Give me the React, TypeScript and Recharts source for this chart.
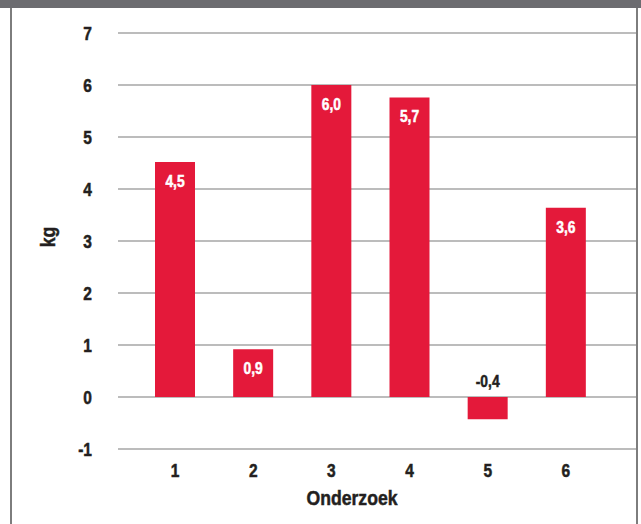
import type React from 'react';
import { BarChart, Bar, XAxis, YAxis, CartesianGrid, LabelList, Label } from 'recharts';

const studies = ['1', '2', '3', '4', '5', '6'];
const weightChange = [4.52, 0.92, 6.0, 5.76, -0.43, 3.64];
const yTicks = [-1, 0, 1, 2, 3, 4, 5, 6, 7];

const chartData = studies.map((name, i) => ({ name, value: weightChange[i] }));

const FONT = '"Liberation Sans", Arial, sans-serif';
const RED = '#e4193a';
const INK = '#231f20';
const SQUEEZE = 0.84; // fake a condensed face

// labels are shown truncated to one decimal, with a comma
const fmt = (v: number) => (Math.trunc(v * 10) / 10).toFixed(1).replace('.', ',');

function Narrow({ x, y, size, fill = INK, anchor = 'middle', rotate = 0, baseline, children }: any): React.JSX.Element {
  return (
    <g transform={`translate(${x},${y}) rotate(${rotate}) scale(${SQUEEZE},1)`}>
      <text
        x={0}
        y={0}
        textAnchor={anchor}
        dominantBaseline={baseline}
        fill={fill}
        stroke={fill}
        strokeWidth={0.5}
        fontSize={size}
        fontWeight='bold'
        fontFamily={FONT}
      >
        {children}
      </text>
    </g>
  );
}

function BarValue(props: any): React.JSX.Element {
  const { x, y, width, height, value } = props;
  const top = Math.min(y, y + height);
  const cx = x + width / 2;
  if (value < 0) {
    return (
      <Narrow x={cx} y={top - 10} size={16.5}>
        {fmt(value)}
      </Narrow>
    );
  }
  return (
    <Narrow x={cx} y={top + 25} size={16.5} fill='#fff'>
      {fmt(value)}
    </Narrow>
  );
}

function XTick(props: any): React.JSX.Element {
  const { x, y, payload } = props;
  return (
    <Narrow x={x} y={y + 14} size={18.5}>
      {payload.value}
    </Narrow>
  );
}

function YTick(props: any): React.JSX.Element {
  const { x, y, payload } = props;
  return (
    <Narrow x={x} y={y + 6.5} size={18.5} anchor='end'>
      {payload.value}
    </Narrow>
  );
}

export default function App(): React.JSX.Element {
  return (
    <div style={{ position: 'fixed', left: 0, top: 0, width: 641, height: 524, background: '#fff' }}>
      <BarChart width={641} height={524} data={chartData} margin={{ top: 33, right: 5, bottom: 0, left: 0 }}>
        <CartesianGrid vertical={false} stroke='#a6a6a6' strokeWidth={1.5} />
        <XAxis
          dataKey='name'
          axisLine={false}
          tickLine={false}
          tickSize={0}
          tickMargin={14}
          height={75}
          padding={{ left: 18, right: 31 }}
          tick={XTick}
        >
          <Label
            content={({ viewBox }: any) => (
              <Narrow x={viewBox.x + viewBox.width / 2 - 25} y={viewBox.y + 56} size={21}>
                Onderzoek
              </Narrow>
            )}
          />
        </XAxis>
        <YAxis
          domain={[-1, 7]}
          ticks={yTicks}
          width={118}
          axisLine={false}
          tickLine={false}
          tickSize={0}
          tickMargin={26}
          tick={YTick}
        >
          <Label
            content={({ viewBox }: any) => (
              <Narrow
                x={viewBox.x + 47}
                y={viewBox.y + viewBox.height / 2 - 4}
                size={21}
                rotate={-90}
                baseline='central'
              >
                kg
              </Narrow>
            )}
          />
        </YAxis>
        <Bar dataKey='value' fill={RED} barSize={40} isAnimationActive={false}>
          <LabelList dataKey='value' content={BarValue} />
        </Bar>
      </BarChart>
      <div style={{ position: 'absolute', left: 0, top: 0, width: 641, height: 8, background: '#6c6c70' }} />
      <div style={{ position: 'absolute', left: 10, top: 8, width: 2, height: 516, background: '#7d7d7d' }} />
      <div style={{ position: 'absolute', left: 636, top: 8, width: 2, height: 516, background: '#7d7d7d' }} />
    </div>
  );
}
